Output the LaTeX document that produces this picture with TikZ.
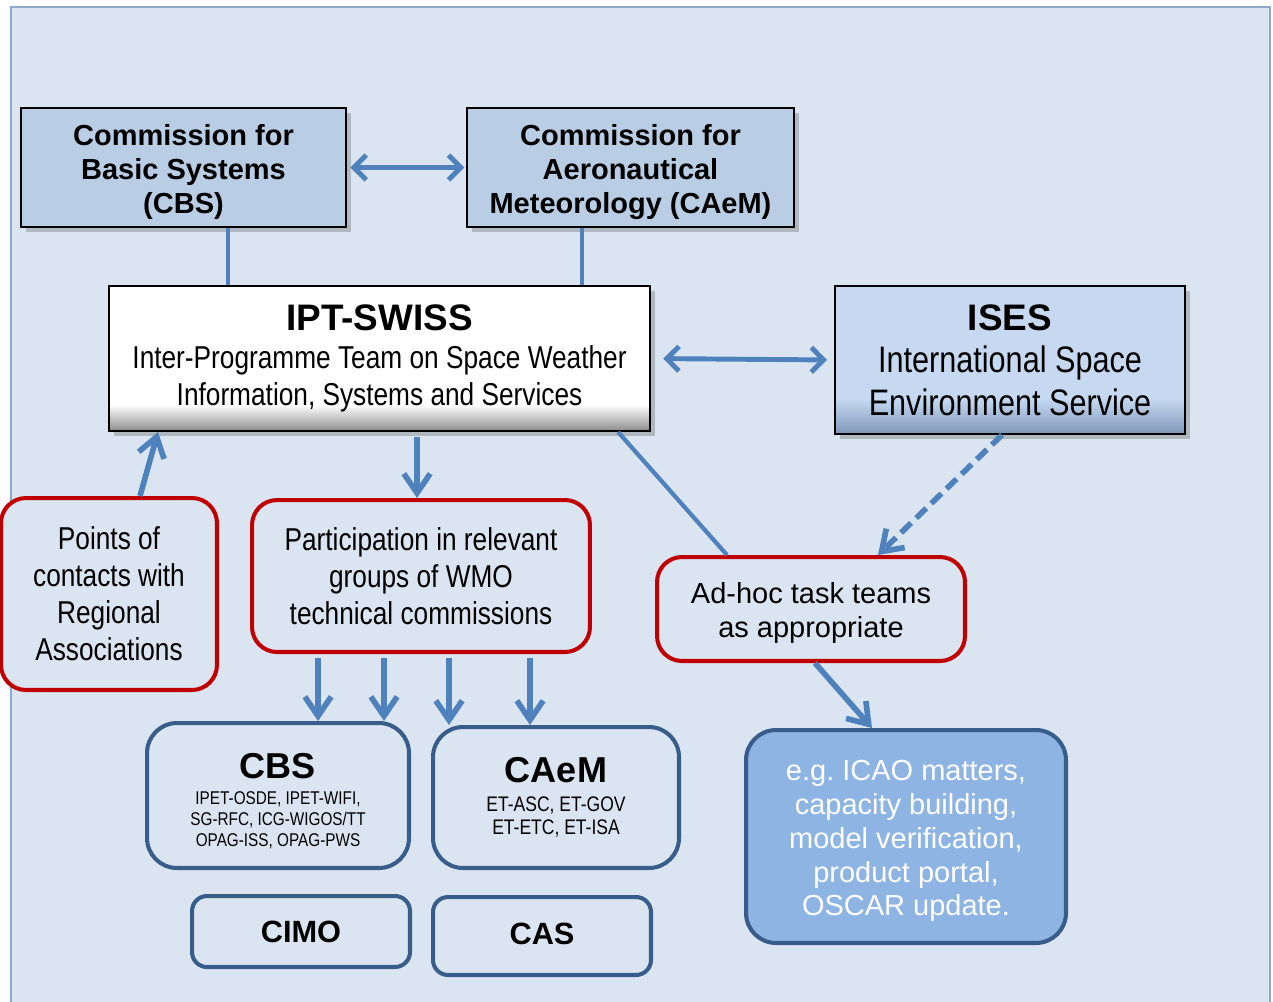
\documentclass[tikz,border=0pt]{standalone}
\usepackage{fontspec}
\setmainfont{Liberation Sans}
\newfontfamily\narrow[FakeStretch=0.83]{Liberation Sans}
\usetikzlibrary{arrows.meta,shadows}
\definecolor{panel}{HTML}{DBE5F1}
\definecolor{panelline}{HTML}{8EA9C9}
\definecolor{topfill}{HTML}{B9CDE5}
\definecolor{isesfill}{HTML}{C6D9F1}
\definecolor{isesdark}{HTML}{7F97B8}
\definecolor{arrowblue}{HTML}{4F81BD}
\definecolor{redline}{HTML}{C00000}
\definecolor{navy}{HTML}{385D8A}
\definecolor{egfill}{HTML}{8EB4E3}
\pgfdeclareverticalshading{iptfade}{100bp}{color(0bp)=(black!45); color(25bp)=(black!45); color(34bp)=(white); color(100bp)=(white)}
\pgfdeclareverticalshading{isesfade}{100bp}{color(0bp)=(isesdark); color(25bp)=(isesdark); color(37bp)=(isesfill); color(100bp)=(isesfill)}
\newcommand\lift[1]{\rule{0pt}{#1}}
\tikzset{shade box/.style={drop shadow={shadow xshift=3pt, shadow yshift=-3pt, opacity=.45}}}
\tikzset{topbox/.style={draw=black, line width=1.1pt, fill=topfill, shade box, minimum width=6.5cm, minimum height=2.38cm, align=center, font=\bfseries\fontsize{16.5}{19.2}\selectfont}}
\tikzset{redbox/.style={draw=redline, line width=2.3pt, rounded corners=0.5cm, fill=panel, align=center, font=\narrow\fontsize{18}{21}\selectfont}}
\tikzset{bluebox/.style={draw=navy, line width=2.3pt, rounded corners=0.6cm, fill=panel, align=center}}
\tikzset{conn/.style={line width=2.4pt, arrowblue}}
\tikzset{arr/.style={line width=3.2pt, arrowblue, -{Straight Barb[length=11pt,width=15pt]}}}
\tikzset{dbl/.style={line width=2.8pt, arrowblue, {Straight Barb[length=7pt,width=14pt]}-{Straight Barb[length=7pt,width=14pt]}}}

\begin{document}
\begin{tikzpicture}[x=0.02cm, y=-0.02cm]
\useasboundingbox (0,0) rectangle (1273,1001);
\draw[panelline, fill=panel, line width=0.6pt] (11,7) rectangle (1270,1015);

\node[topbox] (cbs1) at (183.5,167.5) {\lift{17pt}Commission for\\Basic Systems\\(CBS)};
\node[topbox, minimum width=6.54cm] (caem1) at (630.5,167.5) {\lift{17pt}Commission for\\Aeronautical\\Meteorology (CAeM)};

\node[draw=black, line width=1.1pt, shading=iptfade, shade box, minimum width=10.82cm, minimum height=2.9cm, align=center, font=\narrow\fontsize{18}{21.5}\selectfont] (ipt) at (379.5,358.5)
  {{\normalfont\bfseries\fontsize{21}{25}\selectfont IPT-SWISS}\\Inter-Programme Team on Space Weather\\Information, Systems and Services};
\node[draw=black, line width=1.1pt, shading=isesfade, shade box, minimum width=7cm, minimum height=2.96cm, align=center, font=\narrow\fontsize{21}{24.3}\selectfont] (ises) at (1010,360)
  {{\normalfont\bfseries\fontsize{21}{25}\selectfont ISES}\\International Space\\Environment Service};

\node[redbox, minimum width=4.32cm, minimum height=3.84cm] (points) at (109,594) {Points of\\contacts with\\Regional\\Associations};
\node[redbox, minimum width=6.76cm, minimum height=3.04cm] (part) at (421,576) {Participation in relevant\\groups of WMO\\technical commissions};
\node[redbox, minimum width=6.16cm, minimum height=2.08cm, font=\fontsize{16.5}{19.2}\selectfont] (adhoc) at (811,609) {\lift{16.5pt}Ad-hoc task teams\\as appropriate};

\node[bluebox, minimum width=5.24cm, minimum height=2.9cm, font=\narrow\fontsize{10.5}{11.9}\selectfont] (cbs2) at (278,795.5)
  {{\normalfont\bfseries\fontsize{20.5}{24}\selectfont\lift{21pt}CBS}\\[3pt]IPET-OSDE, IPET-WIFI,\\SG-RFC, ICG-WIGOS/TT\\OPAG-ISS, OPAG-PWS};
\node[bluebox, minimum width=4.92cm, minimum height=2.82cm, font=\narrow\fontsize{12}{13}\selectfont] (caem2) at (556,797.5)
  {{\normalfont\bfseries\fontsize{20.5}{24}\selectfont CAeM}\\[3.4pt]ET-ASC, ET-GOV\\ET-ETC, ET-ISA};
\node[bluebox, rounded corners=0.3cm, minimum width=4.36cm, minimum height=1.42cm, font=\bfseries\fontsize{17.5}{20}\selectfont] (cimo) at (301,931.5) {CIMO};
\node[bluebox, rounded corners=0.3cm, minimum width=4.36cm, minimum height=1.56cm, font=\bfseries\fontsize{17.5}{20}\selectfont] (cas) at (542,936) {\raisebox{2pt}{CAS}};
\node[bluebox, fill=egfill, text=white, minimum width=6.4cm, minimum height=4.26cm, font=\fontsize{16.5}{19.2}\selectfont] (eg) at (906,836.5)
  {\lift{17pt}e.g.\ ICAO matters,\\capacity building,\\model verification,\\product portal,\\OSCAR update.};

\draw[dbl, shorten <=2pt, shorten >=1pt] (cbs1.east) -- (caem1.west);
\draw[conn] (228,0 |- cbs1.south) -- (228,0 |- ipt.north);
\draw[conn] (582,0 |- caem1.south) -- (582,0 |- ipt.north);
\draw[dbl, shorten <=7pt, shorten >=4pt] (ipt.east) -- (ises.west);
\draw[arr] (140,0 |- points.north) -- (158,0 |- ipt.south);
\draw[arr, shorten <=3pt] (417,0 |- ipt.south) -- (417,0 |- part.north);
\draw[conn] (618,0 |- ipt.south) -- (727,0 |- adhoc.north);
\draw[arr, dash pattern=on 8pt off 4pt] (1002,0 |- ises.south) -- (878,0 |- adhoc.north);
\draw[arr] (815,0 |- adhoc.south) -- (872,0 |- eg.north);
\foreach \ax/\tgt in {318/cbs2, 384/cbs2, 449/caem2, 530/caem2}
  \draw[arr, shorten <=2pt] (\ax,0 |- part.south) -- (\ax,0 |- \tgt.north);
\end{tikzpicture}
\end{document}
